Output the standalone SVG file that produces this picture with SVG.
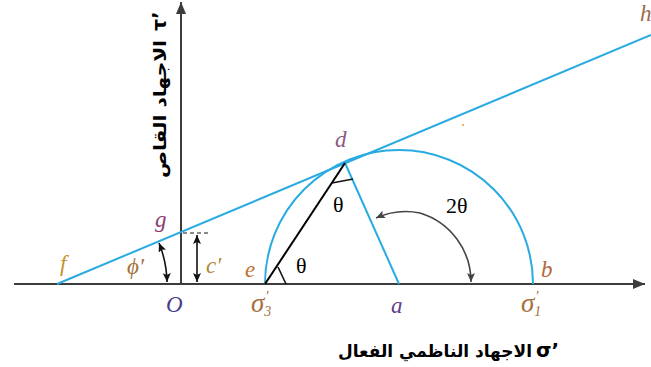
<svg xmlns="http://www.w3.org/2000/svg" width="651" height="367" viewBox="0 0 651 367">
<style>
.axis{stroke:#3c3c3c;stroke-width:2;fill:none}
.blue{stroke:#29abe2;stroke-width:2;fill:none}
.blk{stroke:#000;stroke-width:2;fill:none}
.thin{stroke:#111;stroke-width:1.6;fill:none}
.gray{stroke:#444;stroke-width:1.6;fill:none}
.dash{stroke:#666;stroke-width:1.6;fill:none;stroke-dasharray:4 3}
.lbl{font-family:"Liberation Serif","Times New Roman",serif;font-style:italic;font-size:23px}
.th{font-family:"Liberation Serif","Times New Roman",serif;font-size:22px;fill:#000}
.ar{font-family:"DejaVu Sans",sans-serif;font-weight:bold;font-size:17px;fill:#000}
</style>
<defs>
<marker id="axArr" viewBox="0 0 12 10" refX="12" refY="5" markerWidth="12" markerHeight="10" markerUnits="userSpaceOnUse" orient="auto">
<path d="M0,0 L12,5 L0,10 Z" fill="#3c3c3c"/>
</marker>
<marker id="sArr" viewBox="0 0 9 8" refX="9" refY="4" markerWidth="9" markerHeight="8" markerUnits="userSpaceOnUse" orient="auto-start-reverse">
<path d="M0,0 L9,4 L0,8 L2,4 Z" fill="#111"/>
</marker>
<marker id="gArr" viewBox="0 0 9 8" refX="9" refY="4" markerWidth="9" markerHeight="8" markerUnits="userSpaceOnUse" orient="auto">
<path d="M0,0 L9,4 L0,8 L2,4 Z" fill="#444"/>
</marker>
</defs>
<g id="connectors">
<path id="tauAxis" class="axis" d="M181,284 L181,2" marker-end="url(#axArr)"/>
<path id="sigmaAxis" class="axis" d="M14,284 L645,284" marker-end="url(#axArr)"/>
<path id="envelope" class="blue" d="M57,284 L651,35"/>
<path id="mohrCircle" class="blue" d="M265,284 A134,134 0 0 1 533,284"/>
<path id="radius" class="blue" d="M345,163 L399,284"/>
<path id="chord" class="blk" d="M265,284 L345,163"/>
<path id="tickE" class="thin" d="M278,267 L286,284"/>
<path id="tickD" class="thin" d="M332,183 L353,179"/>
<path id="arc2theta" class="gray" d="M420,213 A72,72 0 0 1 471,282" marker-end="url(#gArr)"/>
<path id="arc2thetaStart" class="gray" d="M420,213 A72,72 0 0 0 376,218" marker-end="url(#gArr)"/>
<path id="phiArrow" class="thin" d="M167,282 A110,110 0 0 0 159,243" marker-start="url(#sArr)" marker-end="url(#sArr)"/>
<path id="cArrow" class="thin" d="M197,282 L197,235" marker-start="url(#sArr)" marker-end="url(#sArr)"/>
<path id="cDash" class="dash" d="M183,233 L211,233"/>
</g>
<g id="node-f"><text class="lbl" x="60" y="271" fill="#c8922e">f</text></g>
<g id="node-g"><text class="lbl" x="155" y="227" fill="#8b3c6e">g</text></g>
<g id="node-phi"><text class="lbl" x="127" y="274" fill="#a07038">ϕ′</text></g>
<g id="node-c"><text class="lbl" x="206" y="273" fill="#b08a3a">c′</text></g>
<g id="node-O"><text class="lbl" x="166" y="312" fill="#4b3c8a">O</text></g>
<g id="node-e"><text class="lbl" x="245" y="277" fill="#c07030">e</text></g>
<g id="node-d"><text class="lbl" x="335" y="147" fill="#8a5a80">d</text></g>
<g id="node-a"><text class="lbl" x="391" y="313" fill="#5e3c8c">a</text></g>
<g id="node-b"><text class="lbl" x="541" y="277" fill="#b0683c">b</text></g>
<g id="node-h"><text class="lbl" x="640" y="21" fill="#9a6a4a">h</text></g>
<g id="node-sigma3"><text class="lbl" x="251" y="312" fill="#a8703c" style="font-size:27px">σ<tspan style="font-size:14px" dy="4">3</tspan><tspan style="font-size:15px" dx="-6" dy="-15">′</tspan></text></g>
<g id="node-sigma1"><text class="lbl" x="521" y="312" fill="#a8703c" style="font-size:27px">σ<tspan style="font-size:14px" dy="4">1</tspan><tspan style="font-size:15px" dx="-6" dy="-15">′</tspan></text></g>
<g id="theta1"><text class="th" x="296" y="273">θ</text></g>
<g id="theta2"><text class="th" x="333" y="212">θ</text></g>
<g id="label2theta"><text class="th" x="446" y="213">2θ</text></g>
<circle cx="463" cy="125" r="1" fill="#e0a030"/>
<g id="yLabel" transform="translate(166,95) rotate(-90)">
<text class="ar" x="-83" y="0" textLength="138" lengthAdjust="spacingAndGlyphs">الاجهاد القاص</text>
<text class="ar" x="64" y="0" style="font-size:19px">τ’</text>
</g>
<g id="xLabel">
<text class="ar" x="338" y="357" textLength="194" lengthAdjust="spacingAndGlyphs">الاجهاد الناظمي الفعال</text>
<text class="ar" x="536" y="357" style="font-size:20px">σ’</text>
</g>
</svg>
